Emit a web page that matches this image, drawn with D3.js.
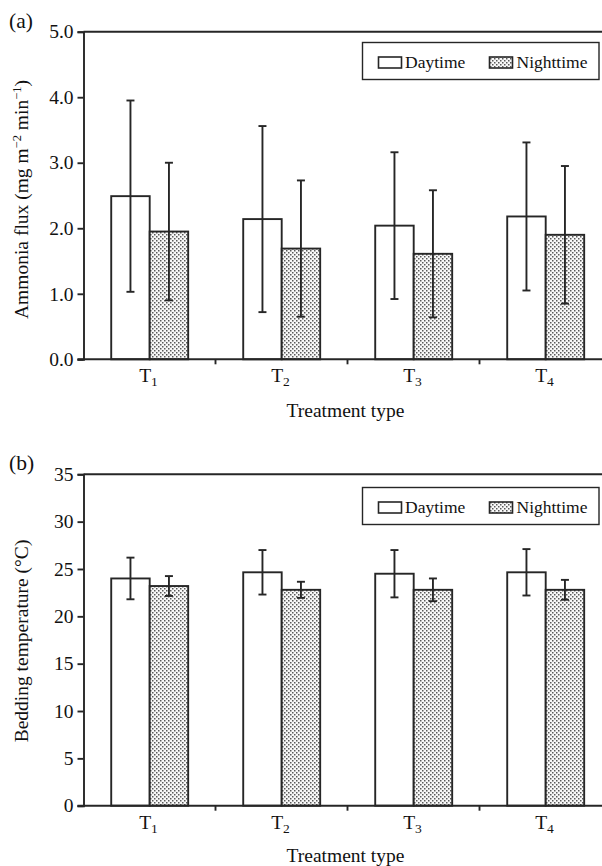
<!DOCTYPE html>
<html>
<head>
<meta charset="utf-8">
<script src="https://cdn.jsdelivr.net/npm/d3@7"></script>
<style>
  html, body { margin: 0; padding: 0; background: #fff; }
  svg { display: block; font-family: "Liberation Serif", "Times New Roman", serif; }
</style>
</head>
<body>
<svg id="chart" width="602" height="866"></svg>
<script>
// ---- data ----
const categories = ["T1", "T2", "T3", "T4"];
const seriesNames = ["Daytime", "Nighttime"];

const fluxDay = [2.49, 2.14, 2.04, 2.18];
const fluxDaySD = [1.46, 1.42, 1.12, 1.13];
const fluxNight = [1.95, 1.69, 1.61, 1.90];
const fluxNightSD = [1.05, 1.04, 0.97, 1.05];
const fluxTicks = [0, 1, 2, 3, 4, 5];

const tempDay = [24.0, 24.65, 24.5, 24.65];
const tempDaySD = [2.2, 2.35, 2.5, 2.45];
const tempNight = [23.2, 22.8, 22.8, 22.8];
const tempNightSD = [1.05, 0.85, 1.2, 1.05];
const tempTicks = [0, 5, 10, 15, 20, 25, 30, 35];

const svg = d3.select("#chart");
const ink = "#262626";
const sw = 1.9;

// dotted pattern for Nighttime
const defs = svg.append("defs");
const pat = defs.append("pattern")
  .attr("id", "dots").attr("patternUnits", "userSpaceOnUse")
  .attr("width", 4).attr("height", 4);
pat.append("rect").attr("width", 4).attr("height", 4).attr("fill", "#f8f8f8");
pat.append("rect").attr("x", 0).attr("y", 0).attr("width", 1.5).attr("height", 1.5).attr("fill", "#5a5a5a");
pat.append("rect").attr("x", 2).attr("y", 2).attr("width", 1.5).attr("height", 1.5).attr("fill", "#5a5a5a");

function drawPanel(cfg) {
  const left = 83.5, right = 611.5;
  const g = svg.append("g");
  const x = d3.scaleBand().domain(categories).range([left, right]);
  const bw = x.bandwidth();
  const xs = d3.scaleBand().domain(seriesNames).range([bw * 0.21, bw * 0.793]);
  const y = d3.scaleLinear().domain([cfg.ticks[0], cfg.ticks[cfg.ticks.length - 1]]).range([cfg.bottom, cfg.top]);

  const rows = [];
  categories.forEach((c, i) => {
    rows.push({cat: c, s: "Daytime", v: cfg.day[i], sd: cfg.daySD[i]});
    rows.push({cat: c, s: "Nighttime", v: cfg.night[i], sd: cfg.nightSD[i]});
  });

  // bars
  g.selectAll("rect.bar").data(rows).enter().append("rect")
    .attr("class", "bar")
    .attr("x", d => x(d.cat) + xs(d.s))
    .attr("y", d => y(d.v))
    .attr("width", xs.bandwidth())
    .attr("height", d => y(0) - y(d.v))
    .attr("fill", d => d.s === "Daytime" ? "#fff" : "url(#dots)")
    .attr("stroke", ink).attr("stroke-width", sw);

  // error bars
  const eb = g.selectAll("g.eb").data(rows).enter().append("g").attr("class", "eb")
    .attr("stroke", ink).attr("stroke-width", sw);
  const cx = d => x(d.cat) + xs(d.s) + xs.bandwidth() / 2;
  eb.append("line").attr("x1", cx).attr("x2", cx)
    .attr("y1", d => y(d.v + d.sd)).attr("y2", d => y(d.v - d.sd));
  eb.append("line").attr("x1", d => cx(d) - 4).attr("x2", d => cx(d) + 4)
    .attr("y1", d => y(d.v + d.sd)).attr("y2", d => y(d.v + d.sd));
  eb.append("line").attr("x1", d => cx(d) - 4).attr("x2", d => cx(d) + 4)
    .attr("y1", d => y(d.v - d.sd)).attr("y2", d => y(d.v - d.sd));

  // top frame line
  g.append("line").attr("x1", left).attr("x2", 602).attr("y1", cfg.top).attr("y2", cfg.top)
    .attr("stroke", ink).attr("stroke-width", sw);

  // y axis
  const ya = g.append("g").attr("transform", `translate(${left},0)`)
    .call(d3.axisLeft(y).tickValues(cfg.ticks).tickSize(6).tickPadding(4).tickFormat(cfg.fmt));
  ya.select(".domain").attr("stroke", ink).attr("stroke-width", sw);
  ya.selectAll(".tick line").attr("stroke", ink).attr("stroke-width", sw);
  ya.selectAll(".tick text").attr("fill", "#111").attr("font-size", 19.5)
    .attr("font-family", "Liberation Serif, Times New Roman, serif");

  // x axis line and boundary ticks
  g.append("line").attr("x1", left - 6).attr("x2", 602).attr("y1", y(0)).attr("y2", y(0))
    .attr("stroke", ink).attr("stroke-width", sw);
  g.selectAll("line.xt").data(categories.slice(1)).enter().append("line")
    .attr("class", "xt")
    .attr("x1", d => x(d)).attr("x2", d => x(d))
    .attr("y1", y(0)).attr("y2", y(0) + 5)
    .attr("stroke", ink).attr("stroke-width", sw);

  // category labels with subscripts
  const lab = g.selectAll("text.cat").data(categories).enter().append("text")
    .attr("class", "cat")
    .attr("x", d => x(d) + bw / 2 - 1)
    .attr("y", y(0) + cfg.catDy)
    .attr("text-anchor", "middle").attr("font-size", 19.5).attr("fill", "#111");
  lab.append("tspan").text(d => d.charAt(0));
  lab.append("tspan").attr("font-size", 13.5).attr("dy", 4).text(d => d.slice(1));

  // x title
  g.append("text").attr("x", 345.5).attr("y", cfg.xTitleY)
    .attr("text-anchor", "middle").attr("font-size", 19.5).attr("fill", "#111")
    .text("Treatment type");

  // y title
  const yt = g.append("text")
    .attr("transform", `translate(${cfg.yTitleX},${(cfg.top + cfg.bottom) / 2 + cfg.yTitleShift}) rotate(-90)`)
    .attr("text-anchor", "middle").attr("font-size", 19.5).attr("fill", "#111");
  cfg.yTitle(yt);

  // panel label
  g.append("text").attr("x", 9).attr("y", cfg.panelY).attr("font-size", 21.5).attr("fill", "#111")
    .text(cfg.panel);

  // legend
  const lg = g.append("g");
  lg.append("rect").attr("x", 362.5).attr("y", cfg.legTop).attr("width", 236.5).attr("height", 37)
    .attr("fill", "#fff").attr("stroke", ink).attr("stroke-width", 1.4);
  const items = [
    {s: "Daytime", sx: 378.5, tx: 405},
    {s: "Nighttime", sx: 489.5, tx: 516.5}
  ];
  items.forEach(it => {
    lg.append("rect").attr("x", it.sx).attr("y", cfg.legTop + 14.5).attr("width", 23).attr("height", 11)
      .attr("fill", it.s === "Daytime" ? "#fff" : "url(#dots)")
      .attr("stroke", ink).attr("stroke-width", 1.6);
    lg.append("text").attr("x", it.tx).attr("y", cfg.legTop + 25).attr("font-size", 17.5).attr("fill", "#111")
      .text(it.s);
  });
}

drawPanel({
  panel: "(a)", panelY: 28,
  top: 31.7, bottom: 359.3,
  ticks: fluxTicks, fmt: d3.format(".1f"),
  day: fluxDay, daySD: fluxDaySD, night: fluxNight, nightSD: fluxNightSD,
  catDy: 23, xTitleY: 416.5,
  yTitleX: 28, yTitleShift: 4,
  legTop: 42.5,
  yTitle: t => {
    t.append("tspan").text("Ammonia flux (mg m");
    t.append("tspan").attr("font-size", 12.5).attr("dy", -7).text("\u22122");
    t.append("tspan").attr("dy", 7).text(" min");
    t.append("tspan").attr("font-size", 12.5).attr("dy", -7).text("\u22121");
    t.append("tspan").attr("dy", 7).text(")");
  }
});

drawPanel({
  panel: "(b)", panelY: 470,
  top: 474.3, bottom: 805.7,
  ticks: tempTicks, fmt: d3.format("d"),
  day: tempDay, daySD: tempDaySD, night: tempNight, nightSD: tempNightSD,
  catDy: 23, xTitleY: 862,
  yTitleX: 28, yTitleShift: 1,
  legTop: 487.5,
  yTitle: t => {
    t.text("Bedding temperature (\u00B0C)");
  }
});
</script>
</body>
</html>
